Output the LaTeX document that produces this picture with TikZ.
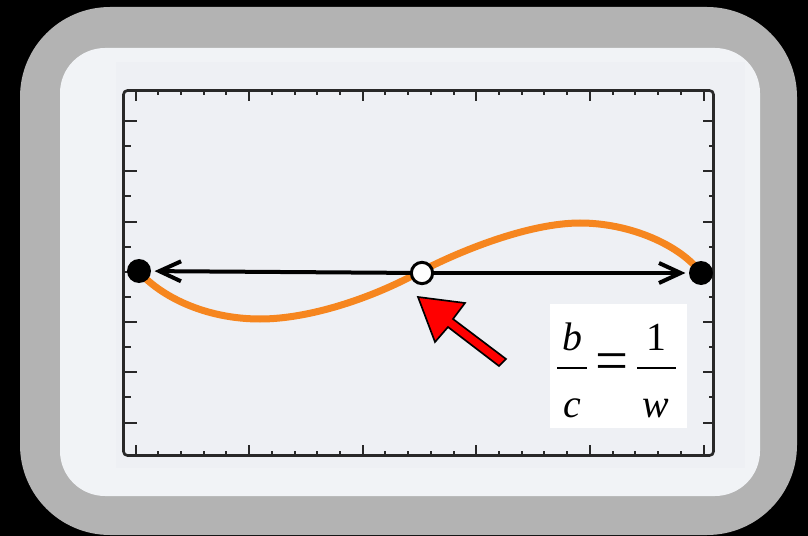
\documentclass[tikz,border=0pt]{standalone}
\usepackage{fontspec}
\setmainfont{Liberation Serif}
\usetikzlibrary{arrows.meta}
\definecolor{shell}{RGB}{179,179,179}
\definecolor{panel}{RGB}{241,243,246}
\definecolor{plotbg}{RGB}{238,240,244}
\definecolor{axisgray}{RGB}{40,40,40}
\definecolor{wave}{RGB}{246,134,31}

\begin{document}
\begin{tikzpicture}[x=0.03cm, y=-0.03cm,
        dot/.style={circle, fill=black, inner sep=0pt, minimum size=0.72cm},
        hole/.style={circle, draw=black, fill=white, line width=0.9mm, inner sep=0pt, minimum size=0.64cm},
        tick/.style={axisgray, line width=0.6mm},
        formula/.style={anchor=base, inner sep=0pt, font=\fontsize{34}{34}\selectfont}]
        \fill[black] (0, 0) rectangle (808, 536);
        \fill[shell, rounded corners=2.7cm] (20, 7) rectangle (797, 535);
        \fill[panel, rounded corners=1.35cm] (60, 48) rectangle (760, 496);
        \fill[plotbg] (116, 62) rectangle (745, 468);

        \draw[axisgray, line width=0.8mm, rounded corners=0.12cm] (123.5, 90.5) rectangle (713.5, 455.5);
        \foreach \i in {0,...,25} {
            \pgfmathsetmacro\len{ifthenelse(mod(\i,5)==0, 11, 5)}
            \draw[tick] (135.5+22.72*\i, 90.5) -- ++(0, \len);
            \draw[tick] (135.5+22.72*\i, 455.5) -- ++(0, -\len);
        }
        \foreach \j in {0,...,12} {
            \pgfmathsetmacro\len{ifthenelse(mod(\j,2)==0, 13, 7)}
            \pgfmathsetmacro\rlen{ifthenelse(mod(\j,2)==0, 11, 5)}
            \draw[tick] (123.5, 121+25.13*\j) -- ++(\len, 0);
            \draw[tick] (713.5, 121+25.13*\j) -- ++(-\rlen, 0);
        }

        \draw[wave, line width=2.1mm] (139, 272) .. controls (165, 300) and (210, 319) .. (260, 319)
            .. controls (310, 319) and (370, 298) .. (412, 276)
            .. controls (460, 250) and (530, 223) .. (580, 223)
            .. controls (630, 223) and (680, 245) .. (701, 273);

        \node[dot] (L) at (139, 271) {};
        \node[dot] (R) at (701, 273) {};
        \node[hole] (M) at (422, 273) {};

        \draw[line width=1.2mm, -{Straight Barb[length=6.5mm, width=6mm]}, shorten >=1mm] (M) -- (L);
        \draw[line width=1.2mm, -{Straight Barb[length=6.5mm, width=6mm]}, shorten >=1mm] (M) -- (R);

        \draw[fill=red, line width=0.5mm, line join=miter] (418, 297) -- (465, 303) -- (453, 319)
            -- (506, 359) -- (499, 366) -- (448, 327) -- (435, 342) -- cycle;

        \fill[white] (550, 304) rectangle (687, 428);
        \node[formula] (b) at (572, 350) {\itshape b};
        \node[formula] (c) at (572, 417) {\itshape c};
        \node[formula] (one) at (656, 350) {1};
        \node[formula] (w) at (656, 417) {\itshape w};
        \node[inner sep=0pt, font=\fontsize{50}{50}\selectfont] (eq) at (612, 367) {=};
        \draw[line width=0.8mm] (557, 368) -- (587, 368);
        \draw[line width=0.8mm] (637, 368) -- (676, 368);
    \end{tikzpicture}
\end{document}
